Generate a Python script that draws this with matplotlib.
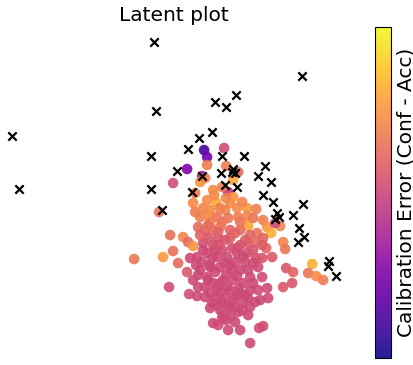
import numpy as np
import matplotlib
matplotlib.use("Agg")
import matplotlib.pyplot as plt

# latent coordinates of the samples and their calibration error (conf - acc)
lat_x = [3.4, 3.7, 1.7, 3.2, 5.8, 5.4, 3.7, 5.6, 6.8, 0.3,
         3.0, 3.5, 4.3, 5.2, 6.3, 2.5, 2.3, 3.7, 4.6, 6.0,
         6.3, 7.7, 8.6, 3.3, 4.0, 5.0, 5.5, 6.7, -1.1, 3.0,
         3.8, 4.7, 5.8, 6.8, 7.7, 9.3, 9.7, 11.0, 10.5, 7.8,
         8.7, 10.1, 9.3, 11.3, 11.5, 2.8, 3.5, 4.3, 5.0, 6.0,
         7.0, 0.0, 1.3, 1.8, 2.3, 0.3, -0.7, -3.6, 0.8, 1.7,
         3.3, 4.3, 6.0, 6.8, 7.8, 8.7, 9.6, 2.7, 3.7, 4.7,
         5.7, 6.7, 7.7, 8.6, 10.2, 8.8, 3.0, 4.0, 5.0, 6.0,
         7.0, 8.0, 9.2, 2.3, 3.7, 4.3, 5.3, 6.3, 7.3, 9.7,
         11.6, 12.3, 12.2, 11.3, 14.2, 13.8, 14.6, 15.3, -0.1, 1.9,
         2.8, 4.0, 5.0, 6.0, 7.0, 8.0, 8.8, 9.8, 2.7, 4.2,
         5.2, 6.3, 7.3, 8.5, 4.0, 5.0, 6.0, 6.8, 7.8, 5.3,
         4.3, 5.2, 6.5, 7.0, 8.9, 9.3, 8.0,
         3.2, 4.2, 5.2, 6.2, 7.5, 4.8, 3.8, 5.5, 6.5, 4.5,
         5.6, 6.7, 7.8, 3.5, 4.7, 5.7, 6.6, 7.8, 4.5, 5.8,
         7.2, 8.3, 9.0, 2.6, 2.0, 7.0, 4.0, 5.2, 2.5, 4.4,
         5.6, 7.2, 8.0, 8.3, 9.2, 3.0, 7.5, 6.1, 4.8, 5.8,
         3.3, 4.5, 7.3, 3.8, 5.0, 6.9, 3.5, 5.5, 7.5, 4.7,
         6.5, 8.0, 5.6, 4.0, 5.5, 8.3, 6.2, 2.8, 4.8, 7.0,
         9.2, 6.5, 4.8, 3.8, 8.3]
lat_y = [5.0, 4.3, 3.1, 2.4, 0.8, 5.2, 3.5, 3.4, 2.8, 1.7,
         1.8, 2.2, 1.0, 1.3, 2.0, 0.7, -0.3, 0.0, -0.2, -0.3,
         0.3, -0.8, -0.9, -0.8, -1.0, -0.8, -1.0, -0.8, -1.2, -1.7,
         -1.5, -1.7, -1.8, -1.7, -1.6, -2.0, -2.7, -2.6, -2.3, -2.6,
         -3.3, -3.3, -3.8, -4.2, -4.9, -2.7, -3.0, -3.0, -2.7, -3.0,
         -3.0, -3.5, -3.7, -4.2, -4.6, -5.1, -5.7, -5.9, -6.3, -7.2,
         -4.3, -4.5, -3.8, -4.8, -4.3, -4.2, -4.8, -5.7, -5.3, -5.7,
         -5.7, -5.3, -5.3, -5.8, -5.7, -6.7, -7.0, -6.7, -6.7, -6.5,
         -7.0, -7.7, -7.7, -8.0, -7.7, -8.3, -8.0, -8.0, -8.3, -8.8,
         -6.8, -7.2, -8.3, -8.7, -6.4, -7.3, -7.6, -8.0, -8.7, -9.4,
         -8.7, -9.3, -9.2, -9.0, -9.3, -9.0, -9.0, -9.8, -9.6, -10.3,
         -10.2, -10.0, -10.2, -10.2, -10.8, -11.0, -10.8, -11.2, -11.5, -11.5,
         -12.3, -11.8, -12.2, -13.0, -12.8, -12.6, -14.3,
         -6.2, -5.8, -5.0, -4.8, -6.2, -3.8, -3.8, -4.0, -6.2, -7.2,
         -7.4, -7.6, -7.0, -8.7, -8.8, -8.7, -9.6, -9.8, -9.8, -10.5,
         -11.0, -8.3, -10.0, -6.5, -5.8, -2.2, -2.2, -2.2, -1.2, 0.5,
         0.2, -0.2, -3.5, -5.0, -5.8, -3.5, -4.0, -11.6, -12.5, -13.0,
         -5.0, -5.0, -5.7, -8.0, -8.3, -8.8, -9.7, -9.7, -9.5, -10.5,
         -10.7, -10.7, -12.0, -6.5, -6.3, -6.3, -7.0, -7.5, -4.5, -4.5,
         -4.5, -3.3, -3.2, -2.5, -1.8]
calib_err = [0.12, 0.22, 0.25, 0.35, 0.43, 0.52, 0.68, 0.68, 0.62, 0.53,
             0.75, 0.70, 0.72, 0.68, 0.80, 0.68, 0.72, 0.72, 0.80, 0.72,
             0.75, 0.76, 0.68, 0.70, 0.72, 0.68, 0.70, 0.72, 0.66, 0.68,
             0.72, 0.65, 0.65, 0.68, 0.70, 0.68, 0.75, 0.70, 0.52, 0.80,
             0.66, 0.82, 0.60, 0.70, 0.66, 0.62, 0.60, 0.62, 0.65, 0.60,
             0.62, 0.64, 0.70, 0.62, 0.75, 0.64, 0.76, 0.66, 0.62, 0.56,
             0.53, 0.53, 0.58, 0.55, 0.58, 0.62, 0.60, 0.51, 0.51, 0.51,
             0.51, 0.52, 0.52, 0.55, 0.56, 0.52, 0.51, 0.51, 0.51, 0.51,
             0.51, 0.51, 0.52, 0.51, 0.52, 0.51, 0.51, 0.51, 0.51, 0.51,
             0.56, 0.60, 0.55, 0.56, 0.82, 0.66, 0.72, 0.68, 0.52, 0.52,
             0.51, 0.51, 0.51, 0.51, 0.51, 0.51, 0.52, 0.51, 0.51, 0.51,
             0.51, 0.51, 0.51, 0.51, 0.51, 0.51, 0.51, 0.51, 0.51, 0.51,
             0.51, 0.51, 0.51, 0.51, 0.52, 0.52, 0.51,
             0.51, 0.51, 0.52, 0.52, 0.52, 0.55, 0.55, 0.55, 0.51, 0.51,
             0.51, 0.51, 0.51, 0.51, 0.51, 0.51, 0.51, 0.51, 0.51, 0.51,
             0.51, 0.51, 0.51, 0.51, 0.51, 0.66, 0.68, 0.66, 0.68, 0.72,
             0.70, 0.70, 0.60, 0.55, 0.55, 0.60, 0.58, 0.51, 0.51, 0.51,
             0.51, 0.51, 0.51, 0.51, 0.51, 0.51, 0.51, 0.51, 0.51, 0.51,
             0.51, 0.51, 0.51, 0.51, 0.51, 0.51, 0.51, 0.51, 0.54, 0.55,
             0.58, 0.60, 0.60, 0.63, 0.66]

# latent coordinates of the reference (anchor) points
ref_x = [-1.6, 13.2, 6.6, 4.5, 5.6, -1.4, -15.8, 4.2, 2.9, 1.8,
         -1.9, 5.2, 7.4, 9.5, 0.7, 5.1, 6.2, 6.5, 6.3, 8.8,
         3.2, 5.5, 6.7, 10.1, -15.1, -1.9, 2.2, 9.3, 10.3, 13.3,
         -0.8, 10.7, 10.9, 10.5, 12.3, 12.9, 13.4, 12.8, 15.9, 15.8, 16.6]
ref_y = [15.8, 12.4, 10.5, 9.8, 9.3, 8.9, 6.4, 6.8, 6.2, 5.1,
         4.4, 4.4, 4.4, 3.4, 2.9, 2.7, 2.8, 2.7, 3.1, 2.4,
         2.4, 1.5, 1.3, 1.8, 1.1, 1.1, 0.8, 0.5, -0.2, -0.4,
         -1.0, -1.3, -1.7, -1.9, -1.5, -2.8, -3.7, -4.2, -6.1, -6.6, -7.6]

fig = plt.figure(figsize=(4.13, 3.65), dpi=100)
ax = fig.add_axes([0.0, 0.019, 0.843, 0.907])
cax = fig.add_axes([0.908, 0.019, 0.039, 0.907])

sc = ax.scatter(lat_x, lat_y, c=calib_err, cmap="plasma", vmin=0, vmax=1,
                s=58, alpha=0.9, linewidths=0)
ax.scatter(ref_x, ref_y, marker="x", color="black", s=36, linewidths=1.6)
ax.set_xlim(-17, 17.8)
ax.set_ylim(-15.8, 17.3)
ax.axis("off")
ax.set_title("Latent plot", fontsize=14.5, pad=4)

cb = fig.colorbar(sc, cax=cax)
cb.set_ticks([])
cb.set_label("Calibration Error (Conf - Acc)", fontsize=14.5, labelpad=4)

fig.savefig("out.png", dpi=100)
